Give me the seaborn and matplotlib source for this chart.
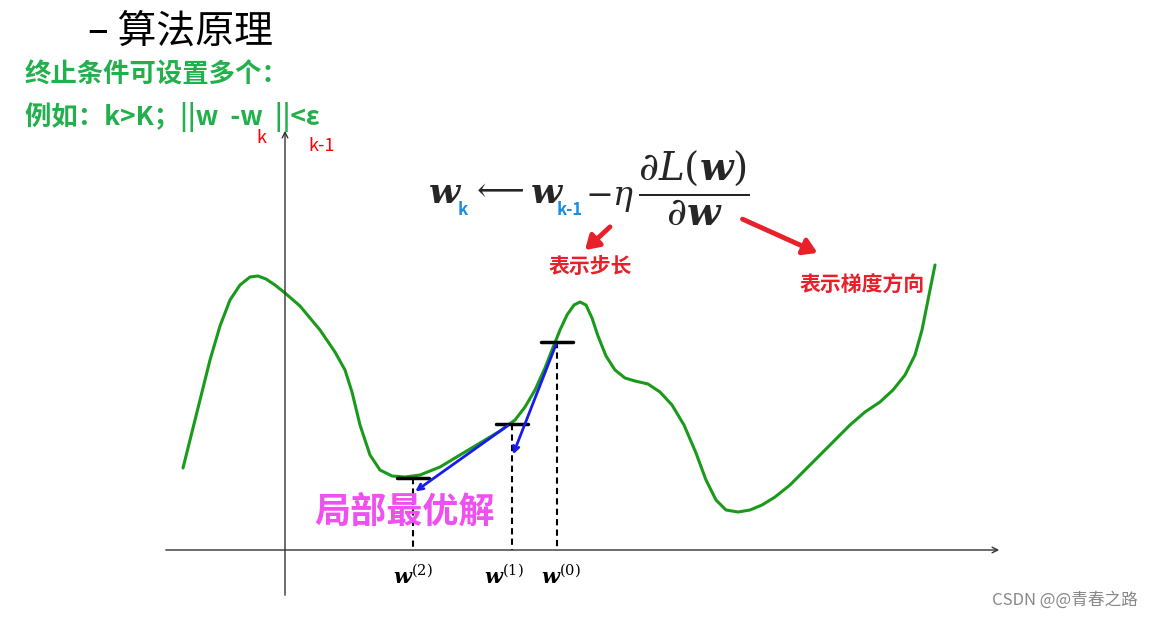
import matplotlib
matplotlib.use("Agg")
import matplotlib.pyplot as plt
import seaborn as sns
import pandas as pd

sns.set_style("white")
plt.rcParams['font.family'] = ['Noto Sans CJK SC', 'DejaVu Sans']
plt.rcParams['mathtext.fontset'] = 'dejavuserif'

curve_x = [183,192,200,210,220,230,240,250,258,266,275,285,300,320,335,345,352,360,370,380,392,405,420,440,460,480,500,515,525,535,545,552,560,567,574,580,586,592,598,606,615,625,635,648,660,672,684,696,706,716,726,738,750,762,775,790,805,820,835,850,865,880,893,905,915,922,928,935]
curve_y = [468,432,400,360,326,300,285,277,276,279,285,293,306,330,352,370,392,425,455,470,476,477,475,467,455,443,431,420,407,390,368,350,330,315,305,302,305,318,336,356,370,378,381,384,392,405,425,453,480,500,510,512,510,505,497,485,470,455,440,425,412,402,390,375,355,330,300,265]
step_x = [413, 512, 557]
step_top = [478, 424, 342]
step_labels = [r"$\mathbfit{w}^{(2)}$", r"$\mathbfit{w}^{(1)}$", r"$\mathbfit{w}^{(0)}$"]

fig = plt.figure(figsize=(11.61, 6.18), dpi=100)
ax = fig.add_axes([0, 0, 1, 1])
ax.set_xlim(0, 1161); ax.set_ylim(618, 0); ax.axis('off')

sns.lineplot(data=pd.DataFrame({"x": curve_x, "y": curve_y}), x="x", y="y", ax=ax,
             color="#1a9a1a", lw=2.2, sort=False, estimator=None)

ax.annotate("", xy=(1002, 550), xytext=(163, 550), arrowprops=dict(arrowstyle="->", color="#333", lw=1))
ax.annotate("", xy=(285, 128), xytext=(285, 598), arrowprops=dict(arrowstyle="->", color="#333", lw=1))

for x, t, lab, dx in zip(step_x, step_top, step_labels, [0, -8, 4]):
    ax.plot([x, x], [t, 550], ls=(0, (3, 2)), color="black", lw=1.5)
    ax.plot([x - 16, x + 16], [t, t], color="black", lw=2.5)
    ax.text(x + dx, 577, lab, ha="center", va="center", fontsize=15, color="black")

ax.annotate("", xy=(512, 457), xytext=(557, 342), arrowprops=dict(arrowstyle="->", color="#1a1aee", lw=2))
ax.annotate("", xy=(413, 493), xytext=(510, 424), arrowprops=dict(arrowstyle="->", color="#1a1aee", lw=2))

ax.text(88, 32, "– 算法原理", fontsize=28, va="center", color="black")
green = "#22b04c"
ax.text(25, 75, "终止条件可设置多个：", fontsize=19, fontweight="bold", color=green, va="center")
ax.text(25, 117, "例如：k>K；||w  -w  ||<ε", fontsize=19, fontweight="bold", color=green, va="center")
ax.text(256, 138, "k", fontsize=13, color="red", va="center")
ax.text(308, 146, "k-1", fontsize=13, color="red", va="center")

ax.text(428, 193, r"$\mathbfit{w}$", fontsize=26, va="center")
ax.text(458, 210, "k", fontsize=12, fontweight="bold", color="#1a8ee0", va="center")
ax.text(470, 190, r"$\longleftarrow$", fontsize=24, va="center")
ax.text(530, 193, r"$\mathbfit{w}$", fontsize=26, va="center")
ax.text(557, 210, "k-1", fontsize=12, fontweight="bold", color="#1a8ee0", va="center")
ax.text(585, 196, r"$-\eta$", fontsize=24, va="center")
ax.text(638, 188, r"$\dfrac{\partial L(\mathbfit{w})}{\partial \mathbfit{w}}$", fontsize=28, va="center")

ax.annotate("", xy=(583, 252), xytext=(612, 225),
            arrowprops=dict(arrowstyle="-|>,head_length=0.8,head_width=0.5", color="#e8202a", lw=3.5))
ax.annotate("", xy=(820, 254), xytext=(740, 218),
            arrowprops=dict(arrowstyle="-|>,head_length=0.8,head_width=0.5", color="#e8202a", lw=3.5))
ax.text(590, 266, "表示步长", fontsize=15, fontweight="bold", color="#e8202a", ha="center", va="center")
ax.text(862, 285, "表示梯度方向", fontsize=15, fontweight="bold", color="#e8202a", ha="center", va="center")

ax.text(405, 512, "局部最优解", fontsize=26, fontweight="bold", color="#f050f0", ha="center", va="center")
ax.text(1065, 600, "CSDN @@青春之路", fontsize=12, color="#888", ha="center", va="center")

fig.savefig("out.png", dpi=100)
